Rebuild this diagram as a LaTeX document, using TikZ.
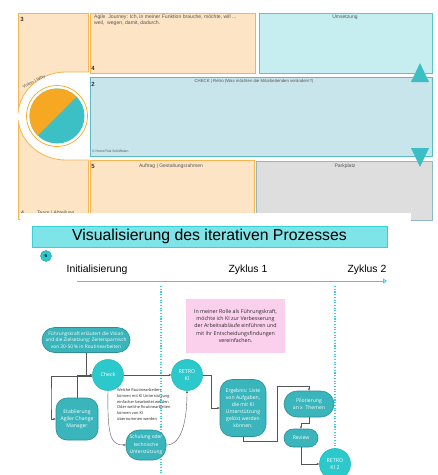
\documentclass[tikz,border=0pt]{standalone}
\usepackage{fontspec}
\setmainfont{Liberation Sans}
\newfontfamily\osf{Open Sans}
\usetikzlibrary{arrows.meta,shapes.misc}
\definecolor{orangeF}{HTML}{FDE4C4}
\definecolor{orangeB}{HTML}{F5B650}
\definecolor{umsF}{HTML}{C6EEF0}
\definecolor{umsB}{HTML}{5CC5C9}
\definecolor{chkF}{HTML}{C8E5EB}
\definecolor{chkB}{HTML}{5DB8C0}
\definecolor{parkF}{HTML}{DEDEDE}
\definecolor{parkB}{HTML}{8FB8C8}
\definecolor{triC}{HTML}{3BBFC4}
\definecolor{pieO}{HTML}{F7A823}
\definecolor{pieT}{HTML}{3DBFC6}
\definecolor{titleF}{HTML}{7FE4E7}
\definecolor{titleB}{HTML}{36D0D6}
\definecolor{nodeF}{HTML}{3AB5BB}
\definecolor{nodeB}{HTML}{2B8F95}
\definecolor{circF}{HTML}{2BC8CC}
\definecolor{circB}{HTML}{22BCC1}
\definecolor{pinkF}{HTML}{FBD0EC}
\definecolor{dotC}{HTML}{3CCFD6}
\definecolor{connC}{HTML}{555555}
\definecolor{txtG}{HTML}{555555}
\begin{document}
\begin{tikzpicture}[x=1pt,y=-1pt,
  obox/.style={draw=orangeB, fill=orangeF, line width=0.8pt},
  tinyt/.style={font=\fontsize{5}{6}\selectfont, text=txtG, inner sep=0pt},
  numt/.style={font=\bfseries\fontsize{6}{7}\selectfont, inner sep=0pt, text=black!80},
  flow/.style={draw=nodeB, fill=nodeF, text=white, font=\osf\fontsize{5.1}{7}\selectfont, align=center, inner sep=1pt, line width=0.6pt},
  circ/.style={circle, draw=circB, fill=circF, text=white, minimum size=31pt, inner sep=0pt, font=\osf\fontsize{5.3}{7}\selectfont, align=center, line width=0.6pt},
  conn/.style={draw=connC, line width=0.4pt, -{Stealth[length=2.6pt,width=2.2pt]}},
  dotl/.style={draw=dotC, line width=1.1pt, dash pattern=on 1.1pt off 1.6pt},
  lbl/.style={font=\fontsize{10.4}{12}\selectfont, inner sep=0pt},
  ]
\useasboundingbox (0,0) rectangle (438,475);
\fill[white] (0,0) rectangle (438,475);
% ---------- top canvas ----------
\draw[obox] (18,13) rectangle (88,219);
\draw[obox] (90,13) rectangle (255,73);
\draw[draw=umsB, fill=umsF, line width=0.8pt] (259,13) rectangle (432,73);
\draw[draw=chkB, fill=chkF, line width=0.8pt] (90,77) rectangle (432,156);
\draw[obox] (90,160) rectangle (254,219);
\draw[draw=parkB, fill=parkF, line width=0.8pt] (256,161) rectangle (432,220);
% white U shape
\fill[white] (89,72) -- (66,72) arc[start angle=-90, end angle=-270, x radius=48, y radius=44] -- (89,160) -- cycle;
\draw[orangeB, line width=0.8pt] (89,72) -- (66,72) arc[start angle=-90, end angle=-270, x radius=48, y radius=44] -- (89,160);
\fill[white] (16,113) rectangle (20,120);
% pie
\fill[pieT] (57,116) circle (27.5);
\begin{scope}
  \clip (57,116) circle (27.5);
  \fill[pieO] (7,166) -- (107,66) -- (7,66) -- cycle;
\end{scope}
\draw[pieO, line width=0.7pt] (57,116) circle (30.5);
\node[tinyt, font=\fontsize{4.4}{5}\selectfont, rotate=26] (vw) at (34,82) {Vision | Why};
% triangles
\fill[triC] (420,63) -- (429,82) -- (411,82) -- cycle;
\fill[triC] (420,167) -- (429,148) -- (411,148) -- cycle;
% texts of top canvas
\node[numt] (n3) at (22,19) {3};
\node[tinyt, font=\fontsize{5.1}{6.2}\selectfont, anchor=north west, align=left] (aj) at (94,14.5) {Agile\ \ Journey: Ich, in meiner Funktion brauche, möchte, will ...\\weil,\ \ wegen, damit, dadurch.};
\node[numt] (n4) at (93,68) {4};
\node[tinyt] (ums) at (345,17) {Umsetzung};
\node[numt] (n2) at (93,84) {2};
\node[tinyt, font=\fontsize{4.3}{5}\selectfont] (chk) at (254,81) {CHECK | Retro (Was möchten die Mitarbeitenden verändern?)};
\node[tinyt, font=\fontsize{3.4}{4}\selectfont, anchor=west] (copy) at (92,151) {© Horst Pütz Schöffelen};
\node[numt] (n5) at (93,166) {5};
\node[tinyt] (auf) at (171,166) {Auftrag | Gestaltungsrahmen};
\node[tinyt] (park) at (345,166) {Parkplatz};
\node[tinyt, anchor=base west, font=\bfseries\fontsize{5}{6}\selectfont] (n4b) at (21,214) {4};
\node[tinyt, anchor=base west, font=\fontsize{5}{6}\selectfont] (team) at (37,214) {Team | Abteilung};
% white overlay of lower picture
\fill[white] (20,213) rectangle (411,475);
% ---------- lower picture ----------
\node[draw=titleB, fill=titleF, line width=0.8pt, minimum width=355pt, minimum height=21pt, inner sep=0pt, font=\fontsize{15.8}{17}\selectfont] (title) at (209.5,236.5) {Visualisierung des iterativen Prozesses};
\node[circle, fill=circF, draw=nodeB, line width=0.4pt, minimum size=11pt, inner sep=0pt, font=\bfseries\fontsize{4.5}{5}\selectfont] (six) at (46,256) {6};
\node[lbl] (init) at (97,270) {Initialisierung};
\node[lbl] (z1) at (248,270) {Zyklus 1};
\node[lbl] (z2) at (367,270) {Zyklus 2};
\coordinate (axA) at (77,281);
\coordinate (axB) at (387,281);
\draw[dotC, line width=0.9pt, -{Triangle[open, length=4pt, width=5pt]}] (axA) -- (axB);
\coordinate (d1a) at (161,286); \coordinate (d1b) at (161,475);
\coordinate (d2a) at (335,286); \coordinate (d2b) at (335,475);
\draw[dotl] (d1a) -- (d1b);
\draw[dotl] (d2a) -- (d2b);
% pink note
\node[fill=pinkF, minimum width=99pt, minimum height=54pt, inner sep=0pt, font=\osf\fontsize{5.3}{7.4}\selectfont, align=center, text=black!85] (pink) at (235.5,326) {In meiner Rolle als Führungskraft,\\möchte ich KI zur Verbesserung\\der Arbeitsabläufe einführen und\\mit ihr Entscheidungsfindungen\\vereinfachen.};
% flow nodes
\node[flow, font=\osf\fontsize{4.8}{6.7}\selectfont, rounded corners=12.5pt, minimum width=88pt, minimum height=25pt, inner sep=0pt] (fk) at (86,340) {Führungskraft erläutert die Vision\\und die Zielsetzung: Zeitersparnisch\\von 30-50 \% in Routinearbeiten};
\node[circ] (check) at (108,375) {Check};
\node[flow, rounded corners=11pt, minimum width=42pt, minimum height=42pt] (etab) at (77,419) {Etablierung\\Agiler Change\\Manager};
\node[flow, font=\osf\fontsize{4.9}{7.3}\selectfont, rounded corners=13pt, minimum width=40pt, minimum height=30pt, inner sep=0pt] (schul) at (146,445) {Schulung oder\\technische\\Unterstützung};
\node[circ] (retro) at (187,375) {RETRO\\KI};
\node[flow, rounded corners=12pt, minimum width=46pt, minimum height=57pt] (erg) at (243,408) {Ergebnis: Liste\\von Aufgaben,\\die mit KI\\Unterstützung\\gelöst werden\\können.};
\node[flow, rounded corners=13pt, minimum width=50pt, minimum height=26pt] (pilot) at (309,404) {Pilotierung\\an x\ \ Themen};
\node[flow, rounded corners=9pt, minimum width=34pt, minimum height=18pt] (review) at (301,438) {Review};
\node[circ] (retro2) at (335,464) {RETRO\\KI 2};
\node[anchor=north west, align=left, inner sep=0pt, font=\osf\fontsize{3.9}{5.7}\selectfont, text=black!85] (welche) at (117,388.5) {Welche Routinearbeiten\\können mit KI Unterstützung\\einfacher bearbeitet werden\\Oder welche Routinearbeiten\\können von KI\\übernommen werden};
% connectors
\coordinate (cL) at (51,400);
\draw[conn] (fk.south) |- (check.west);
\draw[conn] (etab.north) |- (check.west);
\draw[conn] ([yshift=-1.5pt]check.west) -| (cL) |- (etab.west);
\draw[conn] (check.east) -- (retro.west);
\draw[conn] (check.south) .. controls (107,440) and (112,445) .. (schul.west);
\draw[conn] (schul.east) .. controls (182,445) and (187,420) .. (retro.south);
\coordinate (r1) at (211,375);
\draw[conn] (retro.east) -| (r1) |- (erg.west);
\coordinate (e1) at (243,441);
\coordinate (e2) at (277,386);
\draw[conn] (erg.south) |- (e2 |- e1) -- (e2) -| (pilot.north);
\coordinate (p1) at (309,423);
\draw[conn] (pilot.south) -- (p1) -| (review.north);
\draw[conn] (review.south) |- (retro2.west);
\end{tikzpicture}
\end{document}
